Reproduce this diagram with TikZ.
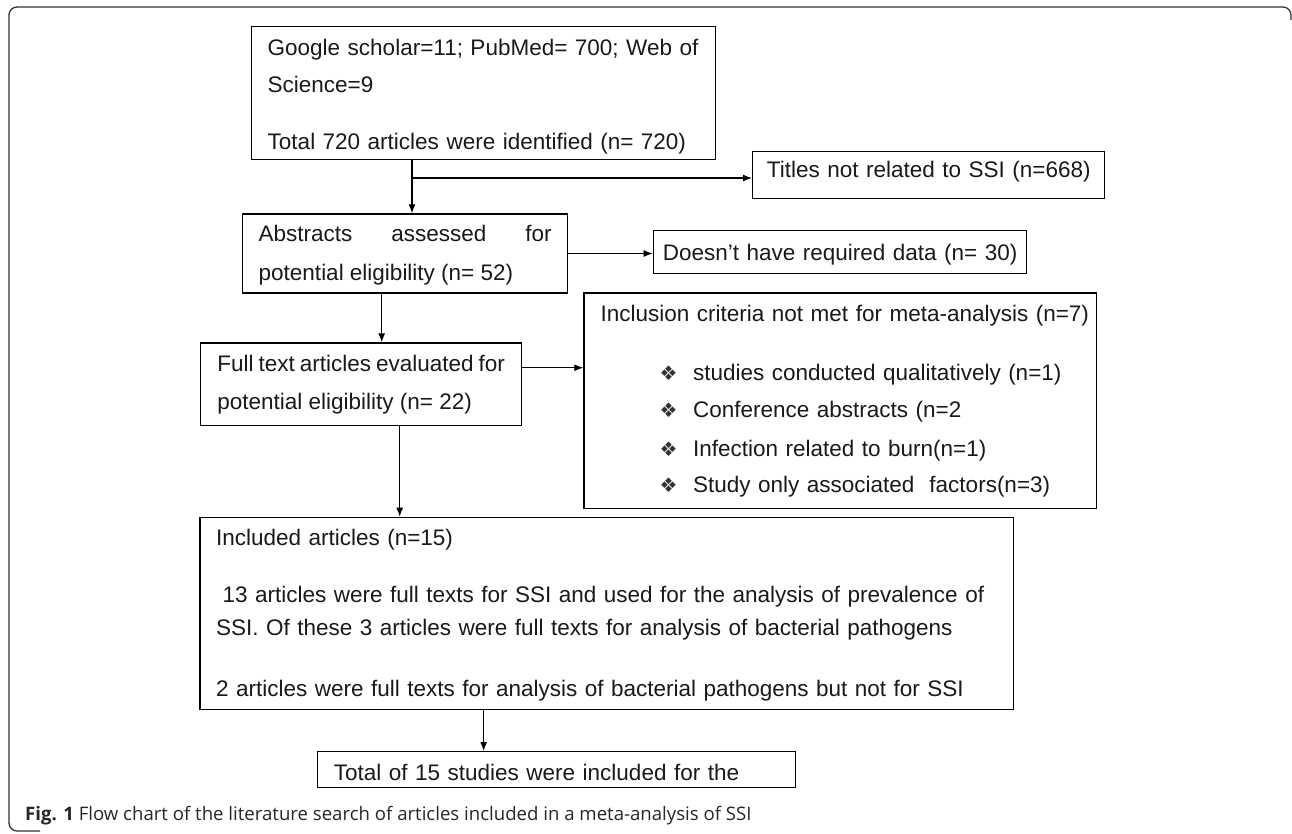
\documentclass[tikz,border=0pt]{standalone}
\usepackage{fontspec}
\setmainfont{Liberation Sans}
\newfontfamily\capfont{Open Sans}
\newfontfamily\symfont{DejaVu Sans}
\usetikzlibrary{arrows.meta,positioning}
\hyphenpenalty=10000
\exhyphenpenalty=10000
\tolerance=9999

\newcommand{\bul}{\hspace*{58.9pt}{\symfont\fontsize{20}{20}\selectfont\color{black!80}❖}\hspace*{15.6pt}}

\begin{document}
\begin{tikzpicture}
    [x=1pt,y=-1pt,
    stepbox/.style 2 args={
        draw,
        line width=1.4pt,
        anchor=north west,
        font=\fontsize{22.5}{37}\selectfont,
        text=black!90,
        align=left,
        text width=#1,
        text height=28.5pt,
        text depth=#2,
        inner xsep=16pt,
        inner ysep=0pt
    },
    stepbox/.default={300pt}{40pt},
    justbox/.style 2 args={stepbox={#1}{#2}, align=justify},
    notebox/.style 2 args={stepbox={#1}{#2}, align=center, inner xsep=6pt},
    arrow/.style={-{Latex[length=9pt,width=7pt]},line width=1.2pt},
    frame/.style={line width=1.3pt,rounded corners=8pt,draw=black!80}]

    \useasboundingbox (0,0) rectangle (1292,833);
    \draw[frame] (1291,20) -- (1291,7) -- (9,7) -- (9,831) -- (40,831);

    %%% boxes
    \node (search) [stepbox={432pt}{103.7pt}, text height=29pt] at (251,26) {%
        Google scholar=11; PubMed= 700; Web of\\
        Science=9\\[20pt]
        Total 720 articles were identified (n= 720)};
    \node (titles) [notebox={340pt}{20.4pt}, text height=26.6pt] at (752,150.5) {Titles not related to SSI (n=668)};

    \node (abstr) [justbox={293pt}{51.6pt}, text height=27.4pt, font=\fontsize{22.5}{38.6}\selectfont] at (242,213.3)
        {Abstracts assessed for potential eligibility (n= 52)};
    \node (nodata) [notebox={361.3pt}{13.4pt}, text height=29.3pt] at (652.7,230) {Doesn't have required data (n= 30)};

    \node (criteria) [stepbox={479.3pt}{186.7pt}, text height=28.7pt, inner xsep=16.7pt] at (583.3,292.3) {%
        \mbox{Inclusion criteria not met for meta-analysis (n=7)}\\[22pt]
        \bul studies conducted qualitatively (n=1)\\
        \bul Conference abstracts (n=2\\[2pt]
        \bul Infection related to burn(n=1)\\[-1pt]
        \bul Study only associated\ \ factors(n=3)};

    \node (fulltext) [justbox={287.6pt}{54pt}, text height=28.7pt, inner xsep=16.7pt, font=\fontsize{22.5}{37.3}\selectfont] at (200,342.3)
        {Full text articles evaluated for potential eligibility (n= 22)};

    \node (included) [stepbox={781.7pt}{164pt}, text height=28.3pt] at (199.3,516.7) {%
        Included articles (n=15)\\[19.7pt]
        \hspace*{6.5pt}13 articles were full texts for SSI and used for the analysis of prevalence of\\[-3.7pt]
        SSI. Of these 3 articles were full texts for analysis of bacterial pathogens\\[24pt]
        2 articles were full texts for analysis of bacterial pathogens but not for SSI};

    \node (total) [stepbox={445.3pt}{7.4pt}, text height=28.3pt, inner xsep=16.5pt] at (316.7,751) {Total of 15 studies were included for the};

    \node (caption) [anchor=base west, inner sep=0pt, text=black!85, font=\capfont\fontsize{18.6}{20}\selectfont] at (25,820.7)
        {\textbf{Fig. 1} Flow chart of the literature search of articles included in a meta-analysis of SSI};

    %% lines
    \coordinate (split) at (412,178);
    \draw[arrow] (split |- search.south) -- (split |- abstr.north);
    \draw[arrow] (split) -- (split -| titles.west);
    \draw[arrow] (abstr.east) -- (abstr.east -| nodata.west);
    \draw[arrow] ([xshift=-23.5pt]abstr.south) -- ([xshift=-23.5pt]abstr.south |- fulltext.north);
    \draw[arrow] ([yshift=16.6pt]fulltext.east) -- ([yshift=16.6pt]fulltext.east -| criteria.west);
    \draw[arrow] ([xshift=38.5pt]fulltext.south) -- ([xshift=38.5pt]fulltext.south |- included.north);
    \draw[arrow] ([xshift=-123.2pt]included.south) -- ([xshift=-123.2pt]included.south |- total.north);
\end{tikzpicture}
\end{document}
